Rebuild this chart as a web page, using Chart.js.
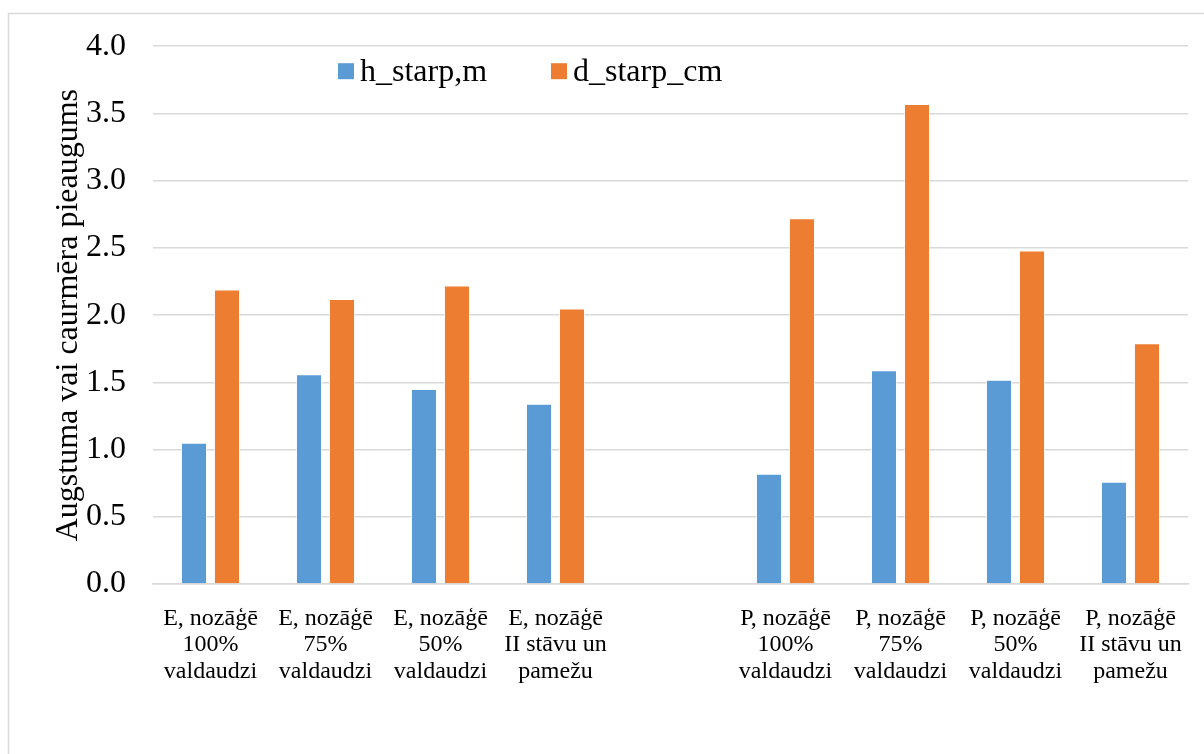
<!DOCTYPE html>
<html>
<head>
<meta charset="utf-8">
<script src="https://cdn.jsdelivr.net/npm/chart.js@4/dist/chart.umd.min.js"></script>
<style>
  html, body { margin: 0; padding: 0; background: #ffffff; }
  #wrap { width: 1204px; height: 754px; position: relative; }
</style>
</head>
<body>
<div id="wrap"><canvas id="c" width="1204" height="754"></canvas></div>
<script>
// Categories (empty slot separates the E and P groups)
const categories = [
  ['E, nozāģē', '100%', 'valdaudzi'],
  ['E, nozāģē', '75%', 'valdaudzi'],
  ['E, nozāģē', '50%', 'valdaudzi'],
  ['E, nozāģē', 'II stāvu un', 'pamežu'],
  '',
  ['P, nozāģē', '100%', 'valdaudzi'],
  ['P, nozāģē', '75%', 'valdaudzi'],
  ['P, nozāģē', '50%', 'valdaudzi'],
  ['P, nozāģē', 'II stāvu un', 'pamežu']
];

// Series values
const hStarp = [1.05, 1.56, 1.45, 1.34, null, 0.82, 1.59, 1.52, 0.76];
const dStarp = [2.19, 2.12, 2.22, 2.05, null, 2.72, 3.57, 2.48, 1.79];

// Y axis tick labels
const yTickLabels = ['0.0', '0.5', '1.0', '1.5', '2.0', '2.5', '3.0', '3.5', '4.0'];

const seriesNames = ['h_starp,m', 'd_starp_cm'];
const seriesColors = ['#5b9bd5', '#ed7d31'];

const FONT = "'Liberation Serif', 'Times New Roman', serif";
const GRID = '#d9d9d9';

// Outer frame of the chart
const framePlugin = {
  id: 'frame',
  beforeDraw(chart) {
    const ctx = chart.ctx;
    ctx.save();
    ctx.fillStyle = '#ffffff';
    ctx.fillRect(0, 0, chart.width, chart.height);
    ctx.strokeStyle = GRID;
    ctx.lineWidth = 1.5;
    ctx.strokeRect(8.5, 13.5, chart.width + 20, chart.height + 20);
    ctx.restore();
  }
};

// Legend drawn inside the plot area
const innerLegend = {
  id: 'innerLegend',
  afterDraw(chart) {
    const ctx = chart.ctx;
    const area = chart.chartArea;
    const starts = [area.left + 185, area.left + 398];
    ctx.save();
    ctx.font = '32px ' + FONT;
    ctx.textBaseline = 'alphabetic';
    ctx.textAlign = 'left';
    chart.data.datasets.forEach((ds, i) => {
      const x = starts[i];
      ctx.fillStyle = ds.backgroundColor;
      ctx.fillRect(x, area.top + 17, 16, 16);
      ctx.fillStyle = '#000000';
      ctx.fillText(ds.label, x + 22, area.top + 35);
    });
    ctx.restore();
  }
};

new Chart(document.getElementById('c'), {
  type: 'bar',
  data: {
    labels: categories,
    datasets: [
      {
        label: seriesNames[0],
        data: hStarp,
        backgroundColor: seriesColors[0],
        borderColor: 'rgba(255,255,255,0.7)',
        borderWidth: 1
      },
      {
        label: seriesNames[1],
        data: dStarp,
        backgroundColor: seriesColors[1],
        borderColor: 'rgba(255,255,255,0.7)',
        borderWidth: 1
      }
    ]
  },
  options: {
    responsive: false,
    animation: false,
    devicePixelRatio: 1,
    layout: { padding: { left: 0, right: 16, top: 45, bottom: 0 } },
    datasets: {
      bar: { categoryPercentage: 0.574, barPercentage: 0.79 }
    },
    plugins: {
      legend: { display: false },
      tooltip: { enabled: false }
    },
    scales: {
      x: {
        grid: { display: false },
        border: { display: true, color: GRID, width: 1.5 },
        ticks: {
          color: '#000000',
          font: { family: FONT, size: 24, lineHeight: '26.5px' },
          padding: 13,
          maxRotation: 0,
          autoSkip: false
        },
        afterFit(scale) { scale.height = 170; }
      },
      y: {
        min: 0,
        max: 4,
        grid: { color: GRID, lineWidth: 1.5, drawTicks: false },
        border: { display: false },
        ticks: {
          stepSize: 0.5,
          color: '#000000',
          font: { family: FONT, size: 32 },
          padding: 27,
          callback: (v, i) => yTickLabels[i]
        },
        title: {
          display: true,
          text: 'Augstuma vai caurmēra pieaugums',
          color: '#000000',
          font: { family: FONT, size: 32, lineHeight: 1.2 },
          padding: { top: 49, bottom: 0 }
        },
        afterFit(scale) { scale.width = 153; }
      }
    }
  },
  plugins: [framePlugin, innerLegend]
});
</script>
</body>
</html>
